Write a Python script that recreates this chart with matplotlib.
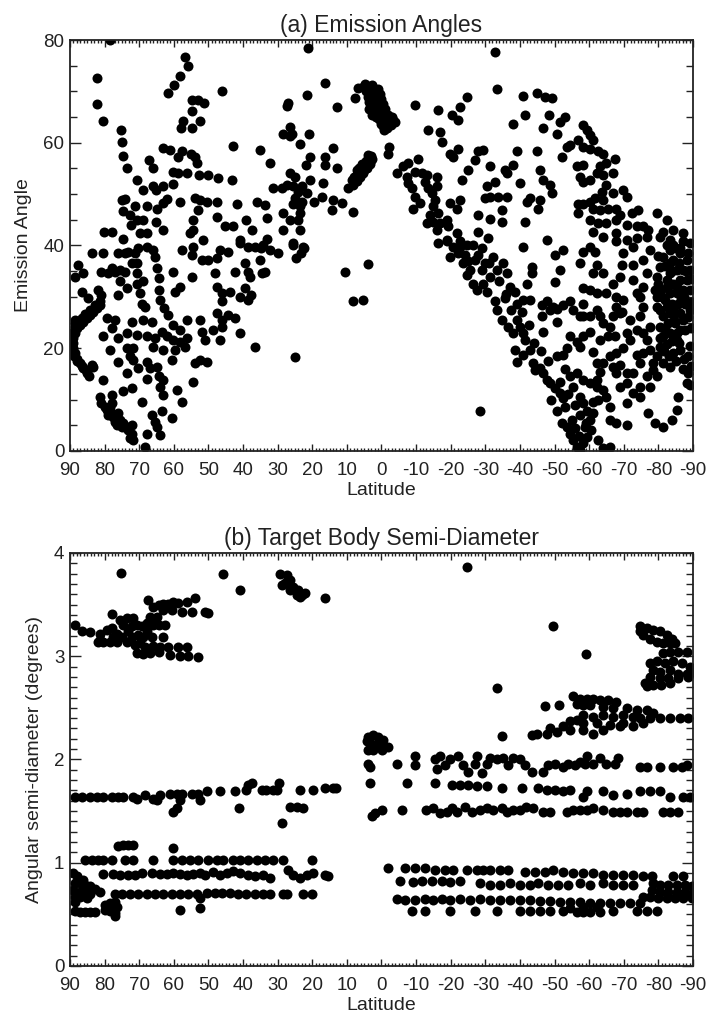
import numpy as np
import matplotlib
matplotlib.use("Agg")
import matplotlib.pyplot as plt
from matplotlib.ticker import MultipleLocator

# ---- data: (latitude, emission angle) ----
north_a = [
    (78.4, 80.0), (82.1, 72.6), (82.1, 67.5), (80.6, 64.3), (75.4, 62.5), (75.1, 60.2),
    (74.6, 57.4), (73.6, 55.0), (70.5, 52.8), (69.0, 50.8), (75.1, 48.9), (74.1, 49.0),
    (74.8, 46.8), (71.2, 47.6), (67.8, 47.6), (67.1, 56.7), (65.9, 55.0), (66.1, 51.5),
    (65.1, 50.9), (63.0, 51.5), (64.9, 47.2), (63.0, 48.2), (62.1, 49.0), (60.1, 52.0),
    (60.1, 54.4), (58.7, 54.2), (63.0, 58.9), (61.1, 58.6), (58.7, 57.3), (57.7, 58.3),
    (56.3, 54.2), (58.2, 48.5), (72.7, 45.9), (70.7, 45.0), (68.8, 45.0), (72.3, 44.0),
    (65.1, 44.5), (63.0, 43.0), (67.8, 42.4), (69.8, 42.4), (80.2, 42.6), (78.0, 42.6),
    (74.6, 41.2), (56.8, 76.6), (55.8, 75.0), (58.2, 73.0), (60.0, 71.3), (61.6, 69.6),
    (54.8, 68.3), (52.9, 68.3), (51.3, 67.7), (54.8, 66.1), (57.3, 64.3), (58.0, 62.8),
    (54.8, 62.8), (52.4, 64.3), (46.2, 70.1), (55.1, 57.8), (53.9, 57.3), (53.4, 56.0),
    (52.6, 53.7), (50.0, 53.7), (53.9, 49.2), (52.4, 48.9), (50.5, 48.5), (52.9, 46.9),
    (54.4, 45.0), (55.4, 42.4), (54.4, 43.0), (51.5, 41.1), (47.1, 53.1), (43.3, 52.8),
    (47.6, 48.5), (41.8, 48.0), (47.6, 45.5), (45.2, 43.7), (42.8, 43.7), (40.9, 41.1),
    (43.0, 59.4), (39.0, 45.0), (37.5, 43.0), (36.1, 48.5), (35.1, 58.6), (32.2, 56.0),
    (33.6, 47.9), (33.2, 45.3), (33.2, 41.2), (34.1, 40.1), (31.2, 51.1), (28.8, 51.1),
    (27.4, 51.8), (26.4, 54.1), (25.0, 53.4), (25.5, 51.5), (28.4, 61.8), (26.4, 63.1),
    (25.9, 61.8), (26.4, 61.3), (26.9, 67.7), (27.4, 67.2), (23.5, 59.8), (20.8, 61.8),
    (21.5, 69.3), (21.1, 78.4), (16.3, 71.6), (12.8, 67.0), (7.7, 68.7), (6.7, 70.6),
    (20.7, 57.3), (21.8, 55.7), (20.7, 52.8), (23.1, 51.5), (24.0, 50.5), (25.0, 49.2),
    (25.5, 48.1), (23.5, 47.6), (21.5, 50.2), (19.6, 48.5), (28.4, 46.3), (26.4, 45.0),
    (28.4, 43.0), (24.0, 45.0), (23.5, 46.3), (23.1, 48.5), (23.5, 43.0), (25.5, 40.4),
    (22.6, 39.8), (16.3, 57.3), (13.9, 58.9), (12.9, 55.0), (16.3, 55.7), (16.8, 52.1),
    (13.9, 48.9), (17.3, 49.5), (14.4, 46.9), (11.5, 48.2), (9.6, 51.1), (8.1, 46.6),
    (7.2, 54.7), (6.7, 53.4),
    (83.7, 38.5), (80.4, 38.5), (87.6, 36.2), (86.1, 34.6), (88.6, 33.9), (86.6, 31.0),
    (84.7, 29.7), (81.8, 31.3), (80.9, 30.4), (81.3, 29.1), (80.9, 34.9), (78.9, 34.6),
    (78.0, 35.6), (77.0, 34.9), (75.6, 35.2), (74.1, 34.9), (76.0, 38.5), (74.1, 38.5),
    (73.2, 38.8), (71.2, 38.5), (70.3, 39.5), (67.8, 39.8), (65.9, 39.1), (65.4, 37.8),
    (72.2, 36.5), (70.7, 36.5), (70.7, 34.6), (75.6, 33.0), (73.6, 31.7), (76.0, 30.4),
    (70.7, 32.6), (68.8, 33.0), (69.7, 30.7), (69.3, 28.7), (68.3, 28.1), (64.9, 35.6),
    (64.4, 33.6), (64.4, 31.3), (63.9, 29.4), (62.9, 27.8), (61.6, 26.5), (60.1, 34.9),
    (58.2, 32.0), (59.6, 31.0), (57.7, 39.1), (54.8, 38.2), (54.4, 39.8), (54.8, 33.9),
    (51.9, 37.2), (50.0, 37.2), (48.1, 34.6), (47.6, 37.5), (46.7, 39.1), (44.3, 38.8),
    (47.6, 32.0), (46.2, 30.7), (43.8, 31.0), (46.2, 29.1), (42.3, 34.9), (39.4, 36.5),
    (38.5, 34.9), (38.0, 33.9), (39.4, 31.7), (40.9, 30.0), (37.6, 30.4), (38.5, 29.4),
    (34.6, 34.6), (33.6, 34.9), (35.1, 37.2), (40.9, 40.4), (38.5, 39.8), (36.6, 39.8),
    (34.7, 39.5), (32.3, 39.1), (29.9, 38.5), (25.6, 40.1), (24.6, 37.5), (23.3, 38.5),
    (22.3, 39.5), (56.3, 25.5), (60.1, 24.5), (63.5, 23.2), (62.1, 22.3), (60.1, 21.6),
    (58.2, 21.3), (56.8, 20.3), (56.3, 21.9), (59.6, 19.7), (60.6, 17.7), (58.2, 23.6),
    (66.4, 25.2), (68.8, 25.5), (65.4, 21.9), (65.9, 20.3), (63.0, 19.7), (67.8, 22.3),
    (72.2, 25.2), (73.6, 22.9), (70.7, 22.6), (71.7, 20.0), (73.6, 20.0), (76.0, 21.9),
    (78.0, 23.9), (77.0, 25.5), (79.4, 25.8), (80.4, 22.3), (78.4, 19.7), (76.0, 17.4),
    (72.7, 18.4), (71.7, 17.7), (70.3, 16.1), (67.8, 17.4), (66.9, 16.1), (64.9, 16.4),
    (64.4, 14.5), (63.0, 13.8), (63.9, 12.5), (67.8, 14.1), (73.6, 15.1), (74.6, 11.6),
    (72.2, 12.2), (80.4, 13.8), (81.3, 10.6), (78.0, 10.9), (59.2, 11.9), (57.7, 9.6),
    (69.3, 9.6), (63.0, 10.9), (63.5, 7.7), (66.4, 7.0), (65.4, 5.7), (60.6, 6.4),
    (63.9, 3.1), (64.9, 4.7), (67.8, 3.4), (68.3, 0.8), (52.0, 23.2), (51.0, 21.6),
    (50.5, 17.4), (53.9, 17.1), (52.4, 17.7), (54.4, 13.5), (46.7, 21.6), (46.2, 24.2),
    (46.2, 25.5), (47.6, 26.8), (44.3, 26.5), (42.3, 25.8), (40.9, 22.9), (36.6, 20.3),
    (25.0, 18.2), (10.6, 34.9), (8.1, 29.1), (5.4, 29.3), (52.4, 25.5), (48.6, 23.6),
    (3.8, 36.4),
]
# dense crescent near the north pole and the streak below it
crescent_a = [
    (81.3, 28.4), (82.3, 27.8), (83.3, 27.1), (84.2, 26.5), (85.2, 25.8), (86.1, 25.2),
    (87.1, 24.5), (87.9, 23.9), (88.6, 22.9), (89.0, 21.9), (89.2, 21.0), (89.0, 20.0),
    (88.6, 19.0), (87.9, 18.0), (87.1, 17.1), (86.1, 16.1), (85.2, 15.1), (84.4, 14.5),
    (82.8, 28.4), (84.2, 27.4), (85.7, 26.6), (86.6, 25.8), (87.9, 25.2), (88.6, 24.2),
    (89.5, 22.9), (89.8, 21.6), (89.8, 20.3), (89.5, 19.3), (88.8, 18.4), (88.1, 17.6),
    (86.6, 16.6), (85.4, 15.7), (83.7, 16.7), (83.3, 16.4), (88.6, 25.5), (88.6, 24.9),
    (80.9, 9.3), (79.9, 8.6), (79.4, 8.0), (78.4, 7.7), (78.9, 7.0), (77.5, 6.7),
    (77.0, 5.7), (76.0, 7.3), (75.6, 6.0), (74.6, 5.4), (75.1, 4.7), (73.6, 4.7),
    (73.2, 4.1), (72.2, 3.4), (72.7, 2.5), (71.7, 2.1), (76.5, 5.1), (78.0, 9.3),
    (78.4, 8.6), (72.2, 5.1),
]
# two dense streaks near the equator
equator_a = [
    (8.6, 52.8), (8.0, 53.3), (7.5, 53.6), (7.0, 54.0), (6.5, 54.4), (6.0, 54.8),
    (5.5, 55.2), (5.0, 55.6), (4.5, 56.0), (4.0, 56.4), (3.5, 56.9), (3.0, 57.4),
    (7.8, 52.4), (6.8, 53.2), (5.8, 54.0), (4.8, 54.8), (3.8, 55.6), (3.4, 56.2),
    (8.3, 51.8), (7.2, 52.6), (6.2, 53.4), (5.2, 54.2), (4.3, 55.0), (3.2, 55.8),
    (2.8, 56.8), (4.6, 56.5), (5.6, 55.8), (3.8, 57.6), (6.6, 55.0),
    (4.2, 70.6), (3.2, 70.9), (2.2, 70.4), (3.6, 69.6), (2.6, 69.4), (1.6, 69.6),
    (3.0, 68.6), (2.0, 68.4), (1.0, 68.6), (2.4, 67.6), (1.4, 67.4), (0.4, 67.6),
    (1.8, 66.6), (0.8, 66.4), (-0.2, 66.6), (1.2, 65.6), (0.2, 65.4), (-0.8, 65.6),
    (0.6, 64.6), (-0.4, 64.4), (-1.4, 64.6), (-2.4, 64.8), (-3.4, 64.4), (0.0, 63.6),
    (-1.0, 63.4), (-2.3, 59.2), (-2.0, 57.9), (-0.5, 63.2),
    (5.0, 71.0), (4.6, 70.0), (4.0, 69.0), (3.6, 68.0), (2.8, 67.0), (2.0, 66.0),
    (1.5, 65.0), (4.8, 71.5), (2.8, 71.3), (1.0, 70.5), (0.5, 69.5), (0.0, 68.5),
    (-0.5, 67.5), (-1.0, 66.5), (-1.8, 65.5), (-3.0, 65.0), (-3.8, 64.0), (-2.8, 63.5),
    (-1.5, 62.8), (-0.8, 62.5), (3.6, 66.5), (2.6, 65.5),
]
south_a = [
    (-9.7, 67.4), (-16.4, 66.4), (-20.3, 65.4), (-22.7, 67.0), (-24.6, 69.0), (-22.2, 64.4),
    (-33.3, 70.4), (-32.8, 77.7), (-41.0, 69.1), (-44.8, 69.7), (-47.2, 68.9), (-49.2, 68.8),
    (-41.5, 65.4), (-38.1, 63.7), (-48.5, 65.4), (-46.8, 62.8), (-50.6, 61.8), (-51.6, 64.1),
    (-53.0, 65.1), (-13.5, 62.5), (-16.9, 62.0), (-17.4, 60.2), (-19.8, 57.9), (-22.2, 58.7),
    (-20.8, 57.3), (-27.0, 56.7), (-28.0, 58.3), (-29.4, 58.6), (-25.1, 54.7), (-23.2, 52.8),
    (-31.3, 55.4), (-35.7, 54.7), (-38.1, 55.7), (-36.2, 54.1), (-39.1, 58.3), (-44.8, 58.3),
    (-40.0, 52.1), (-32.8, 52.4), (-30.4, 51.5), (-29.9, 49.2), (-31.3, 49.5), (-33.8, 49.5),
    (-36.2, 49.5), (-34.7, 46.9), (-28.0, 45.9), (-31.3, 45.1), (-34.7, 44.6), (-42.0, 48.5),
    (-42.9, 49.2), (-45.8, 48.9), (-45.3, 47.2), (-41.5, 44.6), (-28.0, 42.7), (-30.9, 41.4),
    (-47.7, 41.1), (-45.8, 54.7), (-46.8, 52.8), (-48.7, 51.8), (-49.2, 50.2), (-52.1, 57.3),
    (-53.5, 59.2), (-54.5, 59.5), (-56.9, 60.5), (-58.3, 63.5), (-59.3, 62.5), (-60.2, 61.5),
    (-61.2, 60.5), (-58.3, 59.2), (-60.2, 58.8), (-62.7, 58.3), (-64.1, 57.9), (-67.5, 56.8),
    (-65.0, 56.0), (-63.1, 55.4), (-58.3, 55.7), (-56.4, 55.4), (-57.4, 53.4), (-58.3, 52.4),
    (-60.2, 52.8), (-62.2, 54.1), (-64.1, 53.7), (-67.0, 54.1), (-65.0, 51.8), (-63.6, 50.5),
    (-67.0, 50.2), (-69.9, 50.8), (-70.8, 49.5), (-64.1, 48.9), (-61.7, 49.2), (-60.2, 48.5),
    (-58.3, 48.1), (-56.9, 48.1), (-56.9, 46.3), (-61.2, 47.2), (-63.1, 46.9), (-65.5, 47.2),
    (-67.9, 47.2), (-68.9, 45.9), (-72.3, 46.3), (-74.2, 46.9), (-60.2, 45.0), (-62.7, 44.3),
    (-65.0, 44.3), (-67.9, 45.0), (-70.8, 44.0), (-73.7, 43.7), (-75.6, 43.7), (-77.1, 43.0),
    (-76.6, 41.7), (-81.4, 42.7), (-61.2, 42.7), (-64.1, 41.7), (-67.9, 42.4), (-67.9, 40.8),
    (-70.8, 41.1), (-73.7, 41.4), (-84.3, 40.1), (-86.3, 39.5), (-87.2, 40.8),
    (-4.4, 54.1), (-6.3, 55.4), (-7.8, 56.0), (-10.6, 56.8), (-7.3, 53.4), (-7.8, 52.1),
    (-9.7, 54.4), (-11.6, 54.1), (-13.1, 53.7), (-16.1, 53.4), (-12.6, 52.4), (-8.7, 51.1),
    (-9.7, 49.5), (-11.1, 48.2), (-9.2, 47.2), (-13.5, 51.1), (-14.5, 50.2), (-16.0, 51.5),
    (-15.5, 48.9), (-15.0, 47.6), (-14.0, 45.9), (-16.4, 46.3), (-15.0, 44.6), (-13.1, 44.3),
    (-16.9, 44.3), (-16.0, 43.0), (-18.8, 45.0), (-19.3, 43.7), (-19.8, 48.2), (-21.7, 47.2),
    (-22.7, 48.9), (-18.8, 41.1), (-21.7, 42.4), (-22.7, 40.8), (-24.6, 40.1), (-20.8, 39.8),
    (-16.4, 40.4), (-28.5, 7.8),
    (-18.8, 40.8), (-19.8, 37.8), (-22.7, 39.8), (-24.1, 38.2), (-25.1, 36.9), (-25.6, 35.2),
    (-24.6, 34.3), (-27.0, 37.2), (-28.0, 38.2), (-29.9, 36.5), (-28.9, 35.2), (-26.5, 32.6),
    (-27.5, 31.3), (-29.4, 32.6), (-30.4, 31.0), (-32.3, 37.8), (-33.3, 35.2), (-31.4, 33.9),
    (-32.8, 29.1), (-33.3, 27.4), (-34.7, 25.5), (-35.7, 29.7), (-37.1, 32.0), (-35.2, 36.5),
    (-36.2, 34.6), (-38.6, 31.0), (-39.1, 28.7), (-39.1, 25.5), (-36.7, 24.2), (-38.1, 22.9),
    (-40.0, 24.2), (-41.0, 22.9), (-41.5, 21.6), (-38.6, 19.7), (-39.1, 17.4), (-41.0, 18.7),
    (-42.9, 19.7), (-43.9, 17.1), (-44.4, 15.8), (-45.8, 16.1), (-46.8, 15.1), (-47.7, 13.8),
    (-48.7, 13.2), (-50.1, 12.2), (-51.6, 11.2), (-52.5, 10.3), (-50.6, 7.7), (-52.1, 5.4),
    (-53.5, 4.7), (-54.5, 3.4), (-55.4, 2.1), (-56.4, 0.8), (-57.4, 0.2), (-58.3, 1.5),
    (-59.3, 2.8), (-58.8, 4.7), (-60.2, 6.0), (-59.3, 7.7), (-61.2, 7.3), (-58.3, 9.3),
    (-57.4, 10.6), (-55.4, 12.5), (-54.5, 14.5), (-56.4, 15.1), (-58.3, 13.8), (-60.2, 13.2),
    (-62.2, 13.8), (-63.1, 15.4), (-62.2, 17.1), (-62.2, 12.5), (-64.1, 11.9), (-65.0, 10.6),
    (-66.0, 8.6), (-66.0, 6.0), (-67.9, 5.4), (-70.8, 5.1), (-62.6, 2.1), (-64.1, 0.5),
    (-66.0, 0.8),
    (-53.0, 8.5), (-55.0, 6.0), (-56.0, 4.5), (-57.0, 3.0), (-56.0, 9.0), (-57.5, 7.0),
    (-59.0, 5.5), (-60.5, 4.0), (-61.0, 9.5), (-62.5, 10.0), (-54.0, 11.0), (-49.0, 10.0),
    (-51.5, 13.5), (-53.0, 16.0), (-48.0, 17.5), (-46.0, 19.5), (-44.0, 21.0), (-42.5, 24.5),
    (-40.5, 27.0), (-37.5, 27.5), (-36.0, 30.5), (-34.0, 33.0), (-31.0, 36.5), (-29.0, 39.5),
    (-26.5, 40.0), (-23.5, 36.5), (-22.0, 38.5),
    (-41.0, 39.8), (-43.4, 35.9), (-43.4, 34.6), (-42.0, 32.6), (-41.0, 29.4), (-42.9, 29.4),
    (-46.3, 28.4), (-47.7, 29.1), (-49.6, 28.1), (-48.7, 27.4), (-50.6, 27.7), (-52.5, 28.4),
    (-54.5, 29.1), (-55.4, 27.4), (-57.4, 26.2), (-50.6, 25.2), (-46.8, 23.2), (-46.3, 26.2),
    (-50.1, 32.9), (-51.6, 35.2), (-50.1, 38.2), (-52.5, 39.1), (-57.4, 36.5), (-58.3, 38.8),
    (-60.2, 39.8), (-61.7, 38.8), (-62.2, 36.2), (-64.1, 34.6), (-61.2, 34.6), (-58.3, 31.7),
    (-60.2, 31.3), (-62.2, 30.7), (-65.0, 30.7), (-58.3, 28.7), (-58.3, 26.2), (-60.2, 26.2),
    (-62.2, 27.4), (-63.1, 26.2), (-64.1, 24.9), (-60.2, 23.2), (-58.3, 22.3), (-56.4, 21.3),
    (-54.5, 22.3), (-53.5, 20.0), (-52.5, 18.7), (-50.6, 18.4), (-57.4, 20.3), (-61.2, 19.3),
    (-63.1, 21.6), (-65.5, 22.3), (-67.5, 22.3), (-66.0, 24.2), (-66.9, 26.2), (-68.9, 26.8),
    (-69.4, 27.1), (-67.9, 28.1), (-67.9, 30.0), (-66.9, 32.6), (-68.9, 33.9), (-69.4, 36.2),
    (-69.9, 38.5), (-72.8, 39.8), (-72.8, 36.2), (-72.8, 33.2), (-73.7, 30.7), (-69.9, 29.4),
    (-71.8, 25.5), (-73.7, 23.6), (-70.8, 22.9), (-71.8, 21.6), (-69.9, 20.0), (-67.9, 19.0),
    (-66.0, 18.4), (-64.1, 17.1), (-67.0, 16.4), (-68.9, 16.7), (-67.9, 15.1), (-70.8, 15.1),
    (-72.8, 15.1), (-74.7, 17.1), (-73.7, 18.7), (-75.6, 19.0), (-77.6, 19.7), (-76.6, 21.6),
    (-75.6, 22.9), (-77.6, 24.2), (-74.7, 26.2), (-75.6, 28.1), (-74.7, 30.0), (-75.6, 32.0),
    (-76.6, 34.6), (-75.6, 37.2), (-77.6, 39.1), (-68.9, 12.5), (-70.8, 13.2), (-72.8, 11.2),
    (-74.7, 10.6), (-70.8, 9.3), (-74.7, 12.5), (-76.6, 14.5), (-78.5, 15.8), (-79.5, 14.5),
    (-77.6, 12.5), (-77.1, 7.3), (-79.0, 5.4), (-81.4, 4.7), (-83.8, 6.0), (-85.3, 7.9),
    (-85.8, 10.6), (-88.2, 13.2), (-89.1, 12.8), (-88.7, 15.1),
]
# dense block near the south pole
pole_a = [
    (-81.4, 37.8), (-83.4, 39.1), (-84.3, 37.2), (-86.3, 38.5), (-88.2, 37.2), (-89.1, 35.2),
    (-87.2, 35.2), (-85.3, 35.2), (-83.4, 34.6), (-82.4, 33.2), (-84.3, 32.6), (-86.3, 33.2),
    (-88.2, 33.2), (-89.1, 31.3), (-87.2, 31.3), (-85.3, 30.7), (-83.4, 30.7), (-81.9, 29.4),
    (-83.8, 28.7), (-85.8, 28.7), (-87.7, 28.7), (-89.1, 27.4), (-86.3, 26.8), (-83.4, 26.8),
    (-81.4, 26.2), (-82.9, 24.9), (-84.8, 24.9), (-87.2, 25.5), (-86.3, 23.6), (-83.4, 22.9),
    (-81.4, 22.3), (-80.5, 24.2), (-79.5, 28.1), (-79.0, 31.3), (-79.5, 33.9), (-80.5, 35.9),
    (-80.0, 32.6), (-80.9, 31.3), (-82.4, 31.9), (-83.4, 36.5), (-85.3, 21.6), (-82.4, 20.9),
    (-84.3, 19.0), (-86.3, 19.7), (-80.5, 20.3), (-79.5, 18.4), (-81.4, 17.1), (-83.4, 16.4),
    (-78.5, 17.1), (-79.5, 46.3), (-82.4, 45.0), (-84.3, 43.0), (-87.2, 42.4), (-89.1, 40.4),
    (-83.4, 41.1), (-80.5, 41.7),
    (-80.0, 38.0), (-82.0, 36.0), (-84.0, 35.0), (-86.0, 36.5), (-88.0, 35.0), (-89.5, 33.5),
    (-87.5, 30.0), (-85.5, 32.0), (-83.0, 32.5), (-81.0, 30.0), (-82.5, 28.0), (-84.5, 27.0),
    (-86.5, 29.5), (-88.5, 26.0), (-89.5, 29.0), (-87.8, 23.5), (-85.5, 23.0), (-84.0, 21.5),
    (-82.0, 24.0), (-80.5, 27.5), (-79.5, 30.0), (-81.5, 19.5), (-83.0, 18.5), (-85.0, 17.5),
    (-87.5, 18.0), (-89.0, 20.5), (-89.5, 24.0), (-88.5, 38.5), (-85.0, 39.5), (-82.5, 40.0),
    (-86.0, 21.0), (-84.5, 25.5), (-80.5, 22.0), (-89.5, 16.5), (-87.0, 16.0), (-88.5, 18.5),
]

# ---- data: (latitude, angular semi-diameter) ----
north_b = [
    (75.4, 3.81), (45.9, 3.80), (40.9, 3.64), (16.3, 3.56),
    (29.3, 3.80), (27.4, 3.79), (26.4, 3.74), (28.8, 3.69), (25.5, 3.67), (24.0, 3.64),
    (23.1, 3.59), (22.1, 3.61), (24.5, 3.59), (26.4, 3.64), (27.8, 3.71), (23.5, 3.57),
    (88.6, 3.30), (86.6, 3.24), (84.2, 3.23), (81.3, 3.22), (81.3, 3.16), (81.8, 3.14),
    (80.4, 3.14), (78.4, 3.14), (77.5, 3.19), (79.4, 3.25), (78.0, 3.27), (76.5, 3.22),
    (75.1, 3.19), (76.5, 3.14), (73.6, 3.14), (72.2, 3.19), (73.2, 3.24), (74.6, 3.30),
    (75.6, 3.35), (78.0, 3.41), (73.6, 3.37), (71.7, 3.37), (70.7, 3.30), (69.3, 3.29),
    (67.8, 3.32), (65.9, 3.30), (64.4, 3.30), (62.5, 3.30), (67.4, 3.54), (65.9, 3.48),
    (64.4, 3.50), (63.0, 3.51), (61.6, 3.51), (60.1, 3.53), (58.7, 3.52), (56.3, 3.53),
    (53.9, 3.56), (63.0, 3.45), (60.6, 3.45), (57.7, 3.43), (54.8, 3.43), (51.0, 3.43),
    (50.0, 3.42), (66.9, 3.38), (64.9, 3.38), (68.8, 3.19), (66.4, 3.19), (63.0, 3.19),
    (69.7, 3.13), (68.3, 3.09), (65.9, 3.10), (63.9, 3.09), (61.6, 3.09), (58.7, 3.09),
    (56.3, 3.09), (70.7, 3.03), (68.8, 3.02), (66.9, 3.03), (64.4, 3.04), (61.1, 3.01),
    (58.2, 3.00), (55.8, 3.00), (52.9, 2.99), (71.2, 3.11), (70.3, 3.21), (72.2, 3.29),
    (67.8, 3.24),
    (88.6, 1.64), (86.6, 1.64), (84.2, 1.64), (82.3, 1.64), (80.4, 1.64), (78.0, 1.64),
    (76.0, 1.64), (74.6, 1.64), (71.7, 1.64), (70.7, 1.62), (68.3, 1.66), (65.9, 1.62),
    (63.9, 1.66), (64.9, 1.61), (61.1, 1.67), (59.2, 1.67), (57.7, 1.67), (58.2, 1.61),
    (60.1, 1.49), (59.2, 1.53), (54.8, 1.67), (52.9, 1.67), (52.4, 1.61), (50.5, 1.69),
    (46.7, 1.69), (42.3, 1.69), (41.3, 1.53), (39.2, 1.70), (38.7, 1.75), (37.3, 1.77),
    (34.4, 1.70), (33.5, 1.70), (31.2, 1.70), (29.7, 1.77), (30.2, 1.70), (28.8, 1.38),
    (26.4, 1.54), (24.5, 1.54), (22.6, 1.53), (23.5, 1.70), (19.7, 1.70), (16.3, 1.72),
    (13.0, 1.72), (13.9, 1.72),
    (76.0, 1.16), (74.6, 1.17), (73.2, 1.17), (71.7, 1.17), (60.1, 1.14),
    (85.7, 1.03), (83.7, 1.03), (81.8, 1.03), (80.4, 1.03), (78.0, 1.03), (74.1, 1.03),
    (71.7, 1.03), (65.9, 1.03), (60.1, 1.03), (57.7, 1.03), (55.3, 1.03), (52.9, 1.03),
    (50.0, 1.03), (47.6, 1.03), (45.7, 1.03), (42.8, 1.03), (40.9, 1.03), (38.5, 1.03),
    (36.1, 1.03), (33.7, 1.03), (31.3, 1.03), (28.4, 1.03), (20.2, 1.03),
    (80.4, 0.89), (77.5, 0.89), (75.6, 0.88), (73.2, 0.88), (71.2, 0.88), (69.3, 0.90),
    (66.4, 0.90), (63.9, 0.89), (62.1, 0.89), (60.1, 0.90), (58.2, 0.89), (56.3, 0.88),
    (54.4, 0.89), (52.4, 0.90), (51.0, 0.88), (48.6, 0.91), (46.7, 0.88), (44.7, 0.90),
    (42.8, 0.92), (40.9, 0.90), (38.5, 0.88), (36.6, 0.87), (34.2, 0.88), (32.3, 0.85),
    (27.0, 0.93), (25.5, 0.88), (23.5, 0.85), (21.6, 0.88), (19.7, 0.90), (16.3, 0.88),
    (15.4, 0.87),
    (77.0, 0.70), (75.1, 0.70), (72.7, 0.70), (70.3, 0.70), (67.8, 0.70), (65.4, 0.70),
    (63.0, 0.70), (60.6, 0.70), (58.2, 0.70), (55.8, 0.70), (53.4, 0.70), (52.4, 0.66),
    (50.5, 0.71), (48.1, 0.71), (46.2, 0.71), (43.8, 0.71), (41.4, 0.70), (39.0, 0.70),
    (36.6, 0.70), (34.2, 0.70), (32.3, 0.70), (28.4, 0.70), (27.4, 0.70), (22.6, 0.70),
    (20.2, 0.70), (58.2, 0.54), (52.4, 0.56),
    (89.0, 0.90), (88.1, 0.87), (88.6, 0.80), (89.0, 0.74), (88.6, 0.67), (87.1, 0.80),
    (85.7, 0.78), (84.2, 0.77), (82.8, 0.75), (81.3, 0.72), (87.1, 0.72), (85.7, 0.72),
    (84.2, 0.70), (87.1, 0.67), (85.2, 0.66), (87.6, 0.83), (86.1, 0.83), (88.6, 0.62),
    (88.6, 0.53), (87.1, 0.52), (85.7, 0.52), (84.2, 0.52), (82.8, 0.52),
    (79.9, 0.59), (78.4, 0.61), (77.0, 0.62), (79.9, 0.54), (78.4, 0.53), (77.0, 0.51),
    (76.5, 0.57), (77.0, 0.48), (78.4, 0.56),
]
south_b = [
    (-24.6, 3.86), (-49.7, 3.29), (-59.0, 3.02), (-33.5, 2.69), (-34.7, 2.23),
    (-47.2, 2.52), (-51.4, 2.53), (-43.4, 2.24), (-44.8, 2.25),
    (3.8, 2.22), (2.4, 2.24), (0.9, 2.22), (-0.5, 2.19), (-2.0, 2.12), (3.3, 2.16),
    (1.9, 2.14), (0.4, 2.14), (3.8, 2.09), (2.4, 2.09), (-0.05, 2.09), (4.3, 2.18),
    (-74.7, 3.29), (-76.6, 3.27), (-78.5, 3.25), (-80.5, 3.24), (-82.4, 3.21), (-83.8, 3.17),
    (-75.6, 3.21), (-77.6, 3.17), (-79.5, 3.14), (-81.4, 3.13), (-83.4, 3.13), (-84.8, 3.13),
    (-74.7, 3.24), (-81.4, 3.03), (-83.4, 3.04), (-85.8, 3.04), (-88.2, 3.04),
    (-77.6, 2.93), (-79.5, 2.95), (-81.9, 2.93), (-84.3, 2.95), (-86.7, 2.93), (-89.1, 2.90),
    (-78.5, 2.87), (-80.5, 2.85), (-83.4, 2.87), (-85.8, 2.83), (-88.2, 2.83), (-89.6, 2.85),
    (-77.6, 2.80), (-80.5, 2.79), (-82.9, 2.79), (-85.8, 2.79), (-88.7, 2.80), (-76.1, 2.74),
    (-78.5, 2.72), (-80.9, 2.72), (-83.4, 2.74), (-76.6, 2.71),
    (-55.4, 2.61), (-57.4, 2.59), (-59.3, 2.59), (-61.2, 2.59), (-63.1, 2.58), (-65.5, 2.58),
    (-67.9, 2.56), (-56.4, 2.54), (-58.3, 2.53), (-60.2, 2.53), (-64.1, 2.51), (-67.0, 2.50),
    (-70.8, 2.50), (-73.7, 2.48), (-76.6, 2.48), (-78.5, 2.45),
    (-58.3, 2.43), (-61.2, 2.41), (-64.1, 2.43), (-67.0, 2.41), (-69.9, 2.43), (-72.8, 2.41),
    (-74.7, 2.40), (-77.6, 2.40), (-80.5, 2.40), (-83.4, 2.40), (-86.3, 2.40), (-88.7, 2.40),
    (-56.4, 2.38), (-54.5, 2.37), (-58.3, 2.35), (-62.2, 2.35), (-66.0, 2.33), (-69.9, 2.35),
    (-72.8, 2.32), (-75.6, 2.35), (-52.5, 2.32), (-48.7, 2.30), (-50.6, 2.27), (-47.7, 2.25),
    (-54.5, 2.29), (-58.3, 2.29), (-61.2, 2.25), (-64.1, 2.29), (-68.9, 2.32),
    (3.8, 1.96), (3.3, 1.93), (-4.4, 1.96), (-9.7, 2.03), (-9.7, 1.95), (-15.5, 2.00),
    (-16.9, 2.03), (-15.9, 1.91), (-18.4, 1.95), (-19.8, 2.00), (-22.2, 2.03), (-23.6, 1.95),
    (-25.1, 1.88), (-27.0, 1.96), (-27.5, 2.03), (-28.9, 1.87), (-30.4, 1.96), (-31.3, 2.01),
    (-33.3, 2.00), (-35.2, 2.01), (-36.6, 1.95), (-38.1, 2.01), (-40.0, 2.00), (-41.5, 1.95),
    (-43.4, 1.88), (-46.8, 1.88), (-48.2, 1.95), (-50.1, 1.96), (-52.5, 1.93), (-54.0, 1.96),
    (-55.9, 1.95), (-57.4, 1.98), (-58.8, 1.96), (-59.3, 2.03), (-61.2, 1.96), (-63.1, 2.01),
    (-65.0, 1.96), (-67.5, 1.96), (-68.4, 2.01), (-74.7, 1.93), (-76.6, 1.93), (-80.5, 1.93),
    (-84.3, 1.93), (-86.7, 1.93), (-88.2, 1.95),
    (3.3, 1.77), (-7.3, 1.77), (-15.5, 1.77), (-20.3, 1.75), (-22.7, 1.75), (-25.1, 1.75),
    (-27.5, 1.74), (-30.4, 1.74), (-34.7, 1.72), (-40.5, 1.72), (-45.3, 1.72), (-47.7, 1.70),
    (-50.1, 1.70), (-52.5, 1.69), (-54.5, 1.70), (-58.3, 1.64), (-59.3, 1.69), (-64.1, 1.69),
    (-67.0, 1.66), (-70.8, 1.67), (-74.7, 1.69), (-77.6, 1.69), (-80.5, 1.69), (-83.4, 1.64),
    (-87.2, 1.64), (-89.1, 1.64),
    (2.8, 1.45), (1.9, 1.48), (-0.05, 1.51), (-5.8, 1.51), (-13.0, 1.51), (-15.0, 1.53),
    (-16.9, 1.48), (-18.8, 1.49), (-20.3, 1.53), (-21.7, 1.49), (-24.1, 1.54), (-26.1, 1.49),
    (-28.5, 1.51), (-30.4, 1.53), (-32.3, 1.51), (-34.7, 1.53), (-36.2, 1.49), (-38.1, 1.51),
    (-40.0, 1.51), (-41.9, 1.54), (-43.9, 1.53), (-46.8, 1.49), (-48.7, 1.49), (-53.5, 1.49),
    (-55.4, 1.51), (-57.4, 1.51), (-59.3, 1.51), (-61.2, 1.53), (-64.1, 1.51), (-67.0, 1.49),
    (-68.9, 1.49), (-70.8, 1.49), (-73.7, 1.49), (-75.6, 1.49), (-81.4, 1.49), (-83.4, 1.49),
    (-85.8, 1.49),
    (-2.0, 0.95), (-6.8, 0.95), (-9.7, 0.95), (-12.6, 0.95), (-15.5, 0.93), (-18.4, 0.93),
    (-20.8, 0.93), (-24.6, 0.93), (-27.5, 0.93), (-29.4, 0.93), (-31.3, 0.93), (-34.2, 0.93),
    (-36.6, 0.93), (-41.5, 0.91), (-44.4, 0.91), (-47.3, 0.91), (-49.6, 0.93), (-52.5, 0.91),
    (-55.4, 0.90), (-58.3, 0.90), (-61.2, 0.90), (-64.1, 0.88), (-67.0, 0.88), (-69.9, 0.88),
    (-72.8, 0.88), (-75.6, 0.87), (-78.1, 0.87), (-84.3, 0.87), (-87.2, 0.87),
    (-5.3, 0.82), (-9.2, 0.81), (-11.6, 0.82), (-14.5, 0.82), (-17.4, 0.82), (-19.8, 0.81),
    (-22.7, 0.82), (-28.5, 0.80), (-31.3, 0.78), (-34.2, 0.78), (-37.1, 0.80), (-40.0, 0.78),
    (-42.9, 0.78), (-45.3, 0.80), (-48.2, 0.78), (-51.1, 0.78), (-54.0, 0.78), (-57.4, 0.80),
    (-60.2, 0.78), (-64.1, 0.80), (-67.0, 0.78), (-69.9, 0.78), (-72.8, 0.78),
    (-78.5, 0.80), (-80.5, 0.78), (-82.9, 0.78), (-85.3, 0.78), (-87.7, 0.78), (-89.6, 0.77),
    (-78.1, 0.74), (-80.5, 0.72), (-82.9, 0.72), (-85.3, 0.72), (-87.7, 0.72), (-89.6, 0.70),
    (-77.6, 0.67), (-80.0, 0.66), (-82.4, 0.66), (-84.8, 0.66), (-87.2, 0.66), (-89.6, 0.66),
    (-75.6, 0.67),
    (-4.4, 0.65), (-6.8, 0.64), (-9.7, 0.64), (-12.6, 0.65), (-15.0, 0.64), (-17.4, 0.65),
    (-19.8, 0.64), (-22.7, 0.65), (-25.6, 0.64), (-28.5, 0.65), (-31.3, 0.64), (-34.2, 0.64),
    (-37.1, 0.64), (-40.0, 0.64), (-42.9, 0.64), (-45.8, 0.63), (-48.7, 0.63), (-51.6, 0.62),
    (-54.5, 0.62), (-57.4, 0.62), (-60.2, 0.61), (-63.1, 0.61), (-66.0, 0.61), (-68.9, 0.61),
    (-71.8, 0.61), (-74.7, 0.61),
    (-8.7, 0.53), (-12.6, 0.53), (-19.8, 0.53), (-27.0, 0.53), (-33.3, 0.53), (-40.0, 0.53),
    (-42.9, 0.53), (-45.8, 0.53), (-48.7, 0.53), (-52.5, 0.53), (-56.4, 0.52), (-58.3, 0.52),
    (-60.2, 0.52), (-63.1, 0.52), (-67.0, 0.53), (-73.7, 0.53), (-76.6, 0.53), (-79.5, 0.53),
    (-54.5, 0.56), (-58.3, 0.57), (-62.2, 0.57),
]

plt.rcParams["font.family"] = ["Liberation Sans", "DejaVu Sans"]
plt.rcParams["font.size"] = 13
ink = "#222222"

fig = plt.figure(figsize=(7.09, 10.21), dpi=100)
ax_a = fig.add_axes([0.0987, 0.5583, 0.8787, 0.4025])
ax_b = fig.add_axes([0.0987, 0.0539, 0.8787, 0.4045])


def style_axis(ax, ymax, ymajor, yminor):
    ax.set_xlim(90, -90)
    ax.set_ylim(0, ymax)
    ax.xaxis.set_major_locator(MultipleLocator(10))
    ax.xaxis.set_minor_locator(MultipleLocator(1))
    ax.yaxis.set_major_locator(MultipleLocator(ymajor))
    ax.yaxis.set_minor_locator(MultipleLocator(yminor))
    ax.tick_params(which="both", direction="in", top=True, right=True, labelsize=13.5,
                   colors=ink, width=1.0)
    ax.tick_params(axis="x", which="major", length=5, pad=8)
    ax.tick_params(axis="x", which="minor", length=2.5)
    ax.tick_params(axis="y", which="major", length=8, pad=4)
    ax.tick_params(axis="y", which="minor", length=5)
    ax.set_xticks(np.arange(90, -91, -10))
    ax.set_xticklabels([str(v) for v in range(90, -91, -10)])
    for sp in ax.spines.values():
        sp.set_linewidth(1.3)
        sp.set_color(ink)
    ax.set_xlabel("Latitude", fontsize=14, labelpad=2, color=ink)


def draw(ax, groups):
    for g in groups:
        arr = np.array(g)
        ax.plot(arr[:, 0], arr[:, 1], "o", color="black", markersize=7.2,
                markeredgewidth=0)


draw(ax_a, [north_a, crescent_a, equator_a, south_a, pole_a])
style_axis(ax_a, 80, 20, 5)
ax_a.set_ylabel("Emission Angle", fontsize=14, color=ink, labelpad=8)
ax_a.set_title("(a) Emission Angles", fontsize=16.5, color=ink, pad=6)

draw(ax_b, [north_b, south_b])
style_axis(ax_b, 4, 1, 0.1)
ax_b.set_ylabel("Angular semi-diameter (degrees)", fontsize=14, color=ink, labelpad=8)
ax_b.set_title("(b) Target Body Semi-Diameter", fontsize=16.5, color=ink, pad=6)

fig.savefig("out.png", dpi=100, facecolor="white")
